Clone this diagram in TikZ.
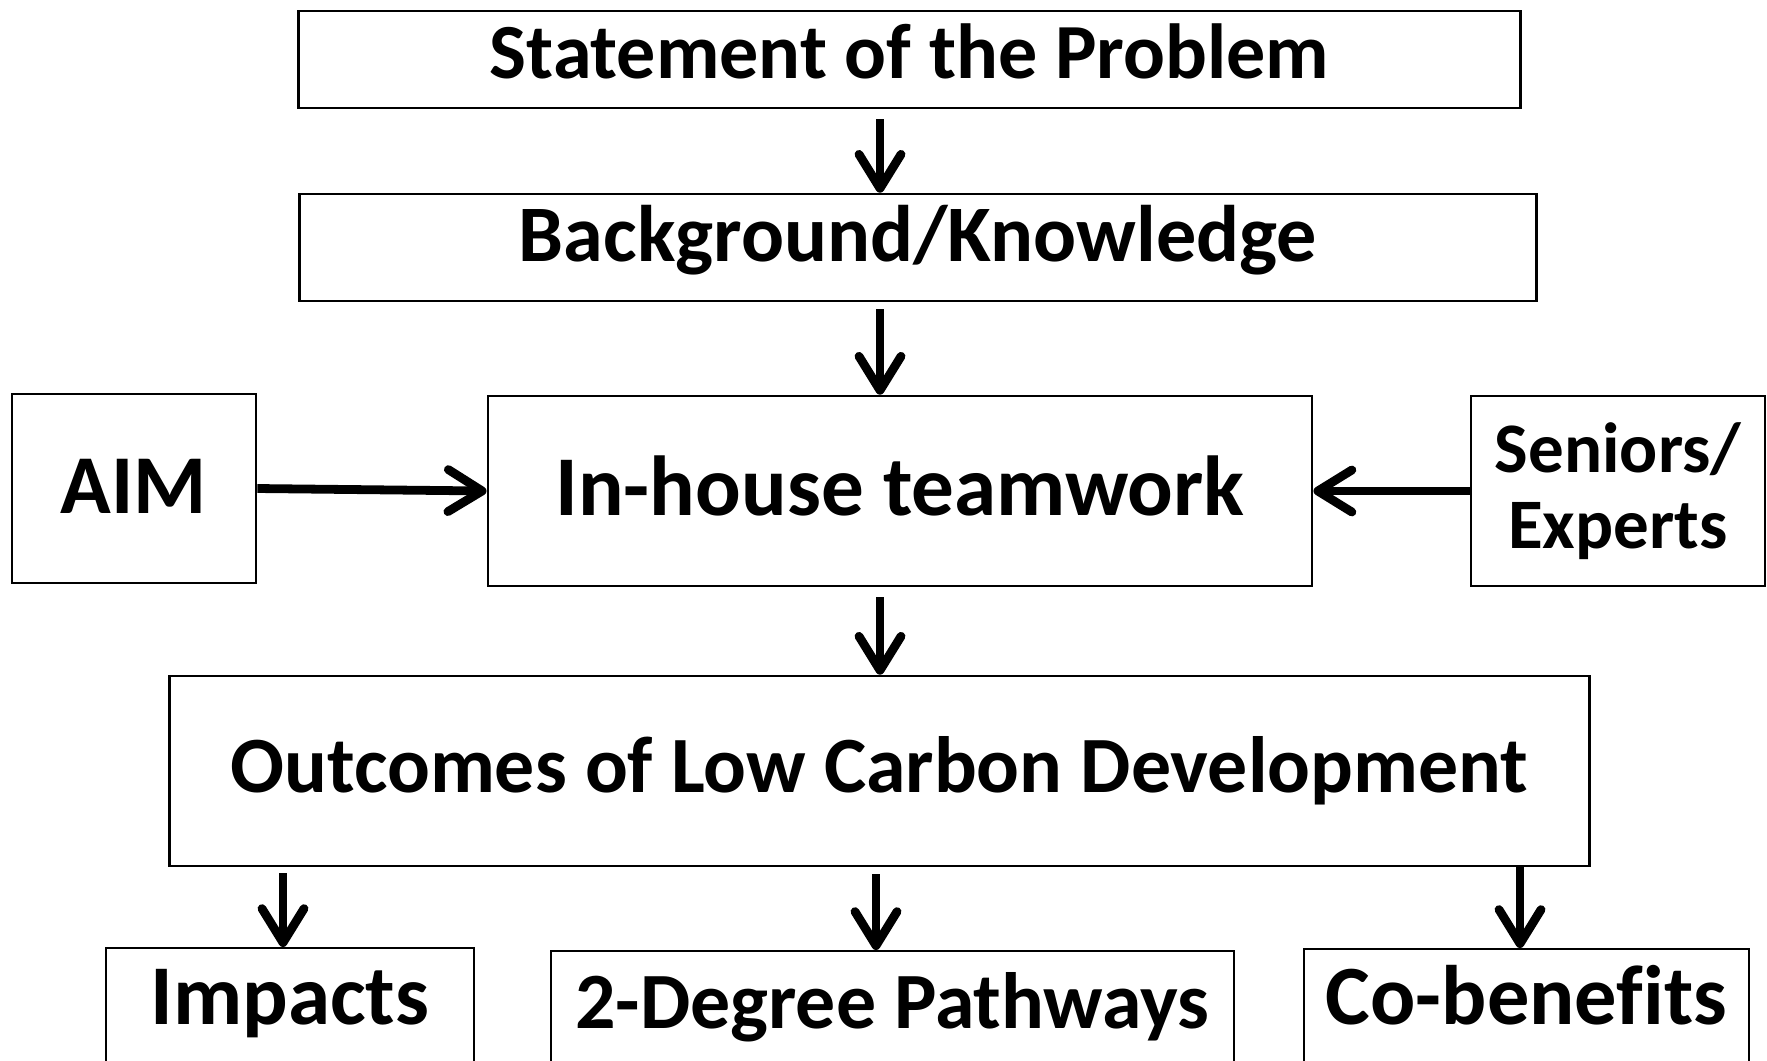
\documentclass[tikz,border=0pt]{standalone}
\usepackage{fontspec}
\setmainfont{Carlito}[Ligatures=NoCommon]
\usetikzlibrary{arrows.meta}
\tikzset{
  box/.style={draw, line width=0.7pt, inner sep=0pt, align=center, font=\bfseries},
  arr/.style={line width=2.5pt, -{Straight Barb[length=3.4mm, width=4.2mm, round]}},
}
\begin{document}
\begin{tikzpicture}[x=0.01cm, y=-0.01cm]
        \useasboundingbox (0,0) rectangle (1767,1060);
        % boxes
        \node[box, minimum width=12.21cm, minimum height=0.97cm, text height=0.6cm, text depth=0.23cm, font=\bfseries\fontsize{22.2}{26}\selectfont] (stmt) at (909.5,59.5) {Statement of the Problem};
        \node[box, minimum width=12.36cm, minimum height=1.07cm, text height=0.65cm, text depth=0.38cm, font=\bfseries\fontsize{22.8}{27}\selectfont] (bgk) at (918,247.5) {Background/Knowledge};
        \node[box, minimum width=8.24cm, minimum height=1.9cm, text height=0.75cm, text depth=0.27cm, font=\bfseries\fontsize{24.2}{28}\selectfont] (team) at (900,491) {In-house teamwork};
        \node[box, minimum width=2.44cm, minimum height=1.89cm, text height=0.75cm, text depth=0.26cm, font=\bfseries\fontsize{23.8}{28}\selectfont] (aim) at (134,488.5) {AIM};
        \node[box, minimum width=2.94cm, minimum height=1.9cm, font=\bfseries\fontsize{20.2}{21.6}\selectfont] (sen) at (1618,491) {Seniors/\\Experts};
        \node[box, minimum width=14.19cm, minimum height=1.9cm, font=\bfseries\fontsize{22.7}{26}\selectfont] (outc) at (879.5,771) {Outcomes of Low Carbon Development};
        % bottom row, cut by the page edge
        \node[box, anchor=north, minimum width=3.68cm, text height=0.76cm, text depth=1.5cm, font=\bfseries\fontsize{24.2}{28}\selectfont] (imp) at (290,947) {Impacts};
        \node[box, anchor=north, minimum width=6.83cm, text height=0.77cm, text depth=1.5cm, font=\bfseries\fontsize{22.7}{26}\selectfont] (deg) at (892.5,950) {2-Degree Pathways};
        \node[box, anchor=north, minimum width=4.45cm, text height=0.75cm, text depth=1.5cm, font=\bfseries\fontsize{24}{28}\selectfont] (cob) at (1526.5,948) {Co-benefits};
        % arrows
        \coordinate (mid) at (880,0);
        \draw[arr, shorten <=0.1cm] (stmt.south -| mid) -- (bgk.north -| mid);
        \draw[arr, shorten <=0.07cm] (bgk.south -| mid) -- (team.north -| mid);
        \draw[arr, shorten <=0.1cm] (team.south -| mid) -- (outc.north -| mid);
        \draw[arr] (aim.east) -- (team.west);
        \draw[arr] (sen.west) -- (team.east);
        \coordinate (impx) at (283,0);
        \coordinate (degx) at (876,0);
        \coordinate (cobx) at (1520,0);
        \draw[arr, shorten <=0.06cm] (outc.south -| impx) -- (imp.north -| impx);
        \draw[arr, shorten <=0.07cm] (outc.south -| degx) -- (deg.north -| degx);
        \draw[arr] (outc.south -| cobx) -- (cob.north -| cobx);
\end{tikzpicture}
\end{document}
